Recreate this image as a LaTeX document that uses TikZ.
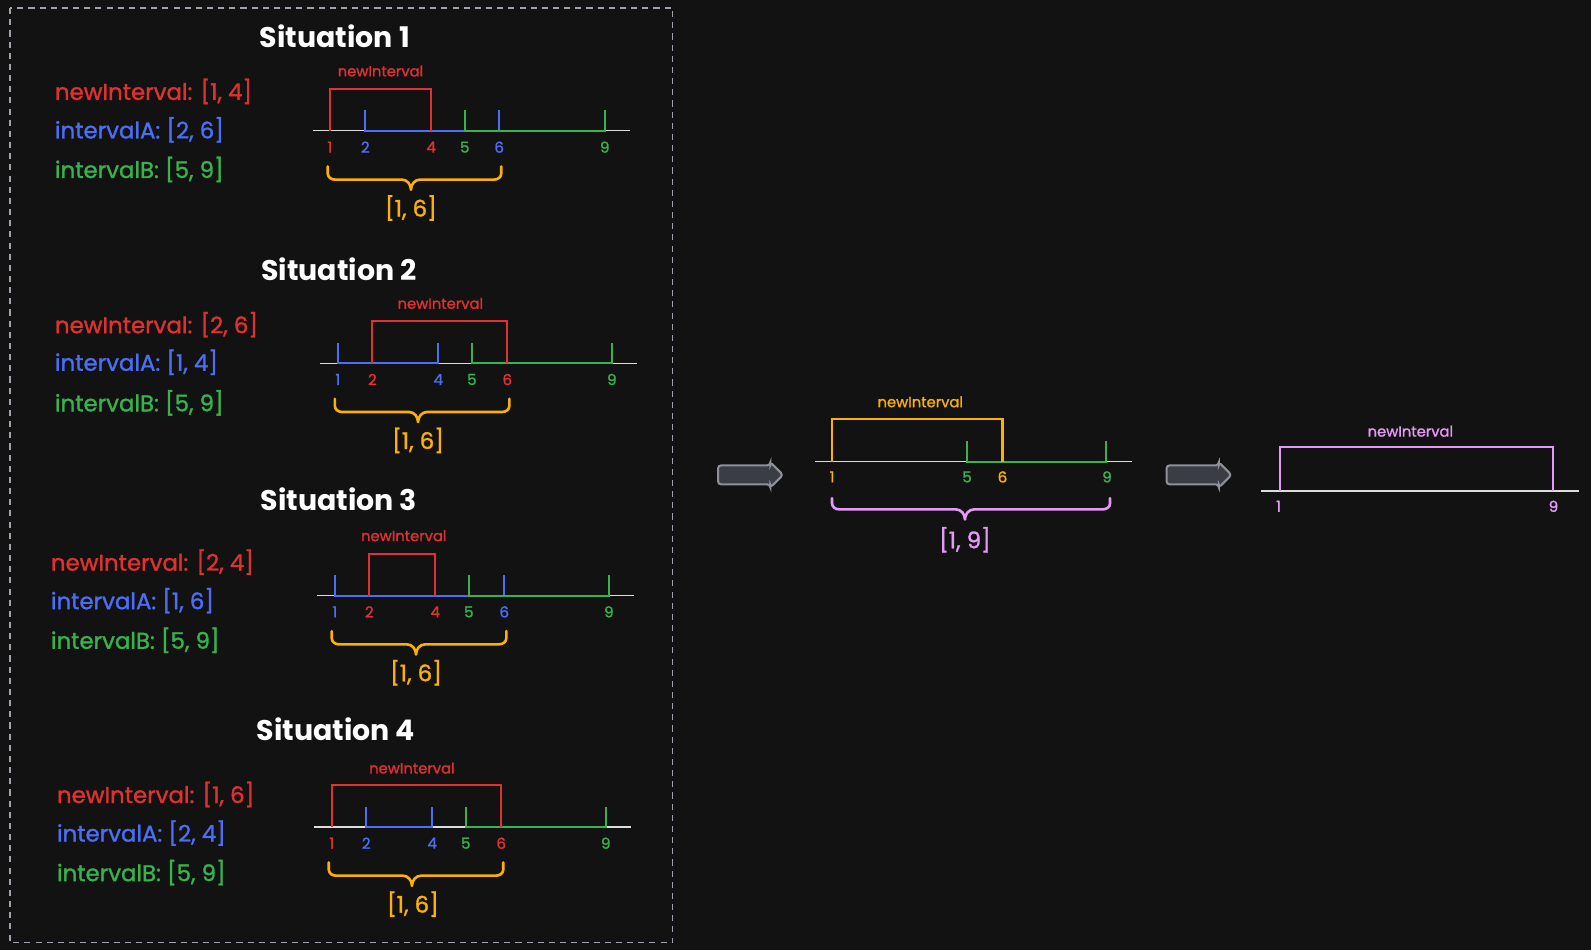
\documentclass[tikz,border=0pt]{standalone}
\usepackage{fontspec}
\setmainfont{Poppins}
\newfontfamily\medfont[FakeBold=1.3]{Poppins}
\usetikzlibrary{shapes.arrows}
\definecolor{bgc}{HTML}{121212}
\definecolor{cred}{HTML}{E03131}
\definecolor{cblue}{HTML}{4C6EF5}
\definecolor{cgreen}{HTML}{37B24D}
\definecolor{corange}{HTML}{FAB005}
\definecolor{cviolet}{HTML}{E599F7}
\definecolor{axisc}{HTML}{DDDDDD}
\definecolor{framec}{HTML}{A0A2B0}
\definecolor{arfill}{HTML}{3A3D44}
\definecolor{arline}{HTML}{8E919C}
\newcommand\mybrace[6]{%
  \draw[brc,#1] (#2,#4) -- (#2,{#5-6}) to[out=-90,in=180] ({#2+7},#5) -- ({#6-9},#5)
    to[out=0,in=90] (#6,{#5+10}) to[out=90,in=180] ({#6+9},#5) -- ({#3-7},#5)
    to[out=0,in=-90] (#3,{#5-6}) -- (#3,#4);}
\begin{document}
\begin{tikzpicture}[x=1pt,y=-1pt,
  ttl/.style={font=\bfseries\fontsize{28}{32}\selectfont, text=white, inner sep=0},
  lbl/.style={font=\medfont\fontsize{22.5}{26}\selectfont, anchor=west, inner sep=0},
  num/.style={font=\medfont\fontsize{15}{17}\selectfont, inner sep=0},
  tag/.style={font=\medfont\fontsize{14.5}{16}\selectfont, inner sep=0},
  axis/.style={draw=axisc, line width=1.2pt},
  seg/.style={line width=2pt},
  brc/.style={line width=2.6pt, line cap=round, line join=round},
  blockarrow/.style={single arrow, draw=arline, fill=arfill, line width=2pt,
    minimum width=25pt, minimum height=64pt, single arrow head extend=3pt,
    single arrow head indent=0pt, rounded corners=3pt, inner xsep=0pt, inner ysep=8pt}]
\useasboundingbox[fill=bgc] (0,0) rectangle (1568,936);
\draw[framec, line width=1.5pt, dash pattern=on 6pt off 5pt] (10,8) rectangle (663,929);

% ---------- Situation 1
\node[ttl] (t1) at (330,36) {Situation 1};
\node[lbl,text=cred] (n1) at (54,90) {newInterval: [1, 4]};
\node[lbl,text=cblue] (a1) at (54,128) {intervalA: [2, 6]};
\node[lbl,text=cgreen] (b1) at (54,167) {intervalB: [5, 9]};
\draw[axis] (308,129) -- (621,129);
\draw[seg,cblue] (360,108) -- (360,129) -- (492,129) -- (492,108);
\draw[seg,cgreen] (458,108) -- (458,129) -- (596,129) -- (596,108);
\draw[seg,cred] (325,129) -- (325,88) -- (425,88) -- (425,129);
\node[tag,text=cred] (g1) at (375,70) {newInterval};
\node[num,text=cred] (p11) at (325,145) {1};
\node[num,text=cblue] (p12) at (360,145) {2};
\node[num,text=cred] (p14) at (425,145) {4};
\node[num,text=cgreen] (p15) at (458,145) {5};
\node[num,text=cblue] (p16) at (492,145) {6};
\node[num,text=cgreen] (p19) at (596,145) {9};
\mybrace{corange}{323}{494}{164}{177}{405}
\node[lbl,anchor=center,text=corange] (r1) at (405,205) {[1, 6]};

% ---------- Situation 2
\node[ttl] (t2) at (334,265) {Situation 2};
\node[lbl,text=cred] (n2) at (54,320) {newInterval: [2, 6]};
\node[lbl,text=cblue] (a2) at (54,357) {intervalA: [1, 4]};
\node[lbl,text=cgreen] (b2) at (54,397) {intervalB: [5, 9]};
\draw[axis] (315,358) -- (628,358);
\draw[seg,cblue] (333,338) -- (333,358) -- (432,358) -- (432,338);
\draw[seg,cgreen] (465,338) -- (465,358) -- (603,358) -- (603,338);
\draw[seg,cred] (367,358) -- (367,316) -- (500,316) -- (500,358);
\node[tag,text=cred] (g2) at (434,299) {newInterval};
\node[num,text=cblue] (p21) at (333,374) {1};
\node[num,text=cred] (p22) at (367,374) {2};
\node[num,text=cblue] (p24) at (432,374) {4};
\node[num,text=cgreen] (p25) at (465,374) {5};
\node[num,text=cred] (p26) at (500,374) {6};
\node[num,text=cgreen] (p29) at (603,374) {9};
\mybrace{corange}{330}{502}{393}{406}{412}
\node[lbl,anchor=center,text=corange] (r2) at (412,434) {[1, 6]};

% ---------- Situation 3
\node[ttl] (t3) at (334,492) {Situation 3};
\node[lbl,text=cred] (n3) at (50,554) {newInterval: [2, 4]};
\node[lbl,text=cblue] (a3) at (50,592) {intervalA: [1, 6]};
\node[lbl,text=cgreen] (b3) at (50,631) {intervalB: [5, 9]};
\draw[axis] (312,587) -- (625,587);
\draw[seg,cblue] (330,567) -- (330,587) -- (497,587) -- (497,567);
\draw[seg,cgreen] (462,567) -- (462,587) -- (600,587) -- (600,567);
\draw[seg,cred] (364,587) -- (364,546) -- (429,546) -- (429,587);
\node[tag,text=cred] (g3) at (398,528) {newInterval};
\node[num,text=cblue] (p31) at (330,603) {1};
\node[num,text=cred] (p32) at (364,603) {2};
\node[num,text=cred] (p34) at (429,603) {4};
\node[num,text=cgreen] (p35) at (462,603) {5};
\node[num,text=cblue] (p36) at (497,603) {6};
\node[num,text=cgreen] (p39) at (600,603) {9};
\mybrace{corange}{327}{499}{622}{635}{410}
\node[lbl,anchor=center,text=corange] (r3) at (410,663) {[1, 6]};

% ---------- Situation 4
\node[ttl] (t4) at (331,719) {Situation 4};
\node[lbl,text=cred] (n4) at (56,783) {newInterval: [1, 6]};
\node[lbl,text=cblue] (a4) at (56,821) {intervalA: [2, 4]};
\node[lbl,text=cgreen] (b4) at (56,860) {intervalB: [5, 9]};
\draw[axis] (309,815) -- (622,815);
\draw[seg,cblue] (361,795) -- (361,815) -- (426,815) -- (426,795);
\draw[seg,cgreen] (459,795) -- (459,815) -- (597,815) -- (597,795);
\draw[seg,cred] (327,815) -- (327,774) -- (494,774) -- (494,815);
\node[tag,text=cred] (g4) at (406,757) {newInterval};
\node[num,text=cred] (p41) at (327,831) {1};
\node[num,text=cblue] (p42) at (361,831) {2};
\node[num,text=cblue] (p44) at (426,831) {4};
\node[num,text=cgreen] (p45) at (459,831) {5};
\node[num,text=cred] (p46) at (494,831) {6};
\node[num,text=cgreen] (p49) at (597,831) {9};
\mybrace{corange}{324}{496}{850}{863}{406}
\node[lbl,anchor=center,text=corange] (r4) at (407,891) {[1, 6]};

% ---------- Middle step
\node[blockarrow] (ar1) at (735,468) {};
\draw[axis] (803,455) -- (1116,455);
\draw[seg,cgreen] (953,435) -- (953,455) -- (1090,455) -- (1090,435);
\draw[seg,corange] (820,455) -- (820,413) -- (988,413) -- (988,455);
\node[tag,text=corange] (gm) at (907,396) {newInterval};
\node[num,text=corange] (pm1) at (820,470) {1};
\node[num,text=cgreen] (pm5) at (953,470) {5};
\node[num,text=corange] (pm6) at (988,470) {6};
\node[num,text=cgreen] (pm9) at (1091,470) {9};
\mybrace{cviolet}{820}{1094}{491}{502}{951}
\node[lbl,anchor=center,text=cviolet] (rm) at (951,532) {[1, 9]};

% ---------- Final step
\node[blockarrow] (ar2) at (1177,468) {};
\draw[axis] (1243,484) -- (1556,484);
\draw[seg,cviolet] (1261,484) -- (1261,441) -- (1531,441) -- (1531,484);
\node[tag,text=cviolet] (gf) at (1390,425) {newInterval};
\node[num,text=cviolet] (pf1) at (1260,499) {1};
\node[num,text=cviolet] (pf9) at (1531,499) {9};
\end{tikzpicture}
\end{document}
